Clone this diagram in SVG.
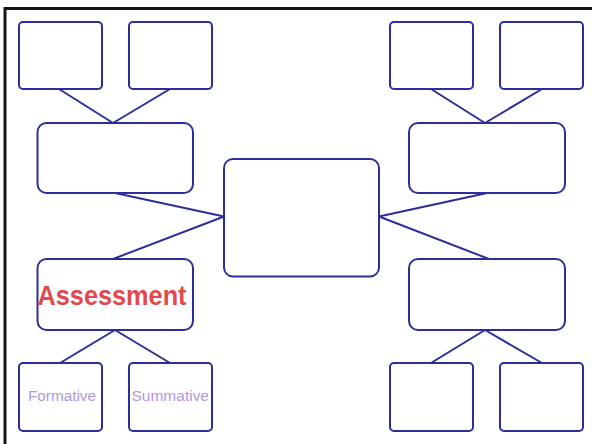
<svg xmlns="http://www.w3.org/2000/svg" width="592" height="444" viewBox="0 0 592 444">
  <style>
    .box { fill: #ffffff; stroke: #2e2e9a; stroke-width: 2; }
    .link { fill: none; stroke: #2e2e9a; stroke-width: 2; }
    .frame { fill: none; stroke: #151515; stroke-width: 3; }
    .title { font-family: "Liberation Sans", Arial, sans-serif; font-weight: bold; font-size: 28px; fill: #e04a4a; }
    .sub { font-family: "Liberation Sans", Arial, sans-serif; font-size: 14px; fill: #b497e0; }
  </style>
  <rect width="592" height="444" fill="#ffffff"/>
  <!-- page frame: top and left edges only -->
  <path class="frame" d="M5,444 V8.5 H592"/>

  <g id="connectors">
    <!-- top-left cluster -->
    <line class="link" x1="59" y1="89" x2="113" y2="123"/>
    <line class="link" x1="170" y1="89" x2="113" y2="123"/>
    <!-- to center -->
    <line class="link" x1="115" y1="193" x2="224" y2="216.5"/>
    <line class="link" x1="113" y1="259" x2="224" y2="216.5"/>
    <line class="link" x1="487" y1="193" x2="379" y2="216.5"/>
    <line class="link" x1="489" y1="259" x2="379" y2="216.5"/>
    <!-- top-right cluster -->
    <line class="link" x1="431" y1="89" x2="485" y2="123"/>
    <line class="link" x1="542" y1="89" x2="485" y2="123"/>
    <!-- bottom-left cluster -->
    <line class="link" x1="115" y1="330" x2="60" y2="363"/>
    <line class="link" x1="115" y1="330" x2="170" y2="363"/>
    <!-- bottom-right cluster -->
    <line class="link" x1="485" y1="330" x2="431" y2="363"/>
    <line class="link" x1="485" y1="330" x2="542" y2="363"/>
  </g>

  <g id="center">
    <rect class="box" x="224" y="159" width="155" height="117.5" rx="9"/>
  </g>

  <g id="top-left-a"><rect class="box" x="19" y="22" width="83" height="67" rx="4"/></g>
  <g id="top-left-b"><rect class="box" x="129" y="22" width="83" height="67" rx="4"/></g>
  <g id="mid-left-upper"><rect class="box" x="37.5" y="123" width="155.5" height="70" rx="9"/></g>

  <g id="assessment">
    <rect class="box" x="37.5" y="259" width="155.5" height="71" rx="9"/>
    <text class="title" x="37.5" y="305" textLength="149" lengthAdjust="spacingAndGlyphs">Assessment</text>
  </g>
  <g id="formative">
    <rect class="box" x="19" y="363" width="83" height="68" rx="4"/>
    <text class="sub" x="28" y="400.5" textLength="68" lengthAdjust="spacingAndGlyphs">Formative</text>
  </g>
  <g id="summative">
    <rect class="box" x="129" y="363" width="83" height="68" rx="4"/>
    <text class="sub" x="131.5" y="400.5" textLength="77.5" lengthAdjust="spacingAndGlyphs">Summative</text>
  </g>

  <g id="top-right-a"><rect class="box" x="390" y="22" width="83" height="67" rx="4"/></g>
  <g id="top-right-b"><rect class="box" x="500" y="22" width="83" height="67" rx="4"/></g>
  <g id="mid-right-upper"><rect class="box" x="409" y="123" width="156" height="70" rx="9"/></g>
  <g id="mid-right-lower"><rect class="box" x="409" y="259" width="156" height="71" rx="9"/></g>
  <g id="bottom-right-a"><rect class="box" x="390" y="363" width="83" height="68" rx="4"/></g>
  <g id="bottom-right-b"><rect class="box" x="500" y="363" width="83" height="68" rx="4"/></g>
</svg>
